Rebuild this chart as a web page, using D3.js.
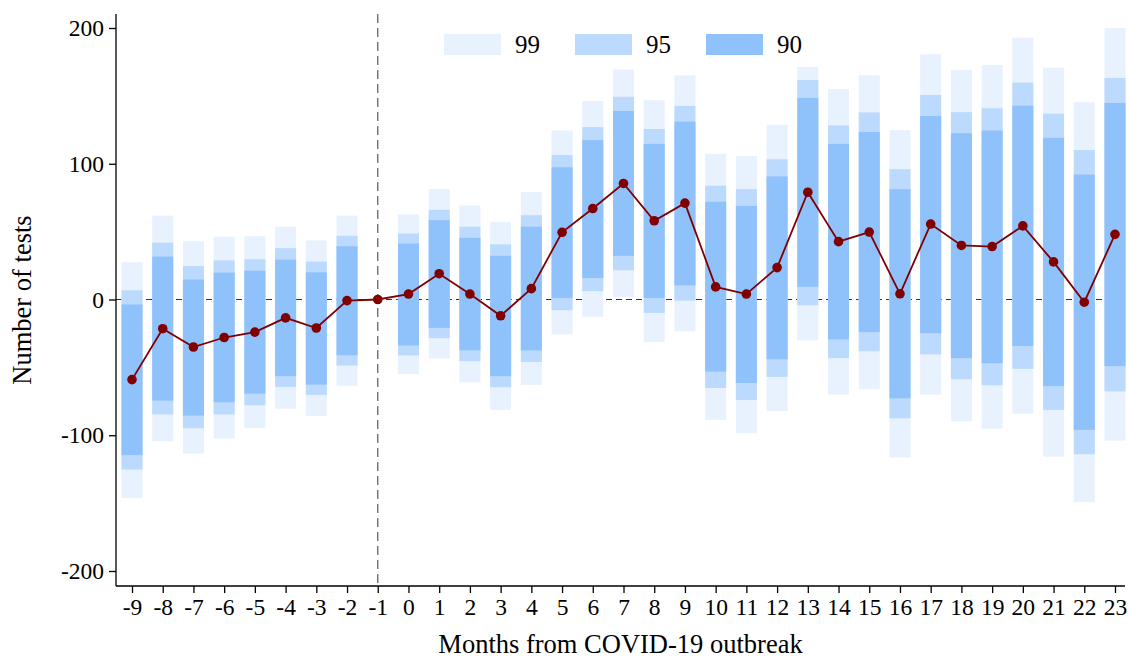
<!DOCTYPE html>
<html>
<head>
<meta charset="utf-8">
<script src="https://cdn.jsdelivr.net/npm/d3@7"></script>
<style>
  body { margin: 0; background: #fff; }
  svg text { font-family: "Liberation Serif", "Times New Roman", serif; fill: #000; }
</style>
</head>
<body>
<svg id="svg" width="1130" height="658"></svg>
<script>
// months relative to outbreak
var months = [-9,-8,-7,-6,-5,-4,-3,-2,-1,0,1,2,3,4,5,6,7,8,9,10,11,12,13,14,15,16,17,18,19,20,21,22,23];
var estimate = [-59,-21.5,-35,-28,-24,-13.5,-21,-0.8,0,4,19,4,-12,8,49.5,67,85.5,58,71,9.3,4,23.5,79,42.6,49.7,4.2,55.6,39.8,39,54.2,27.7,-2,48];
// 90% interval
var lo90 = [-114.6,-74.5,-85.5,-75.7,-69.4,-56.5,-62.7,-41,0,-33.9,-20.9,-37.5,-56.5,-37.5,1.1,15.8,32.2,1.1,10.4,-53.1,-61.5,-44,9.3,-29.4,-24,-72.8,-24.8,-43.2,-46.9,-34.2,-63.8,-96,-49.1];
var hi90 = [-3.7,31.6,14.7,19.8,21.2,29.4,20,39.2,0,41.2,58.4,45.4,32.2,53.6,97.4,117.4,138.9,114.6,131,72,68.9,90.6,148.5,114.6,123.4,81.3,135.2,122.5,124.5,142.8,119.1,92,144.8];
// 95% interval
var lo95 = [-125.3,-84.7,-94.8,-84.7,-77.9,-64.4,-70.3,-48.6,0,-41.2,-28.5,-45.4,-64.6,-46,-7.9,6.2,21.5,-9.9,-0.8,-65.2,-74,-57,-4.2,-43.2,-38.1,-87.5,-40.4,-58.7,-63.2,-51.1,-81.3,-114,-67.7];
var hi95 = [6.8,41.8,24.6,28.8,29.6,37.8,27.9,46.9,0,48.6,66.1,53.6,40.6,62.1,106.4,127,149.3,125.6,142.6,83.8,81.3,103.3,161.7,128.2,137.8,96,150.7,138,140.9,159.8,136.9,110.1,163.2];
// 99% interval
var lo99 = [-146.2,-104.4,-113.5,-102.5,-94.8,-80.5,-85.8,-63.5,0,-55,-43.5,-61,-81.3,-62.9,-25.7,-12.7,1.7,-31.3,-23.4,-88.6,-98.5,-82.1,-30.2,-70,-66.1,-116.3,-70,-89.8,-95.1,-84.1,-115.7,-149.3,-103.9];
var hi99 = [27.4,61.8,42.9,46.3,46.6,53.6,43.5,61.8,0,62.7,81.3,69.2,57,79.3,124.5,146.2,169.4,146.8,165.1,107.3,105.6,128.7,171.3,155,165.1,124.8,180.7,169.1,172.8,192.8,170.8,145.4,199.9];
var yTicks = [-200,-100,0,100,200];
var levels = ["99","95","90"];
var colors = {"99":"#e8f1fe","95":"#bbdafd","90":"#8fc1fb"};

var svg = d3.select("#svg");
var axLeft = 116, axRight = 1125, axTop = 14, axBottom = 586;

var x = d3.scalePoint().domain(months).range([132,1115]);
var y = d3.scaleLinear().domain([-200,200]).range([571,28]);
var barW = 21;

var rows = months.map(function(m,i){
  return {m:m, est:estimate[i],
    "99":[lo99[i],hi99[i]], "95":[lo95[i],hi95[i]], "90":[lo90[i],hi90[i]]};
});

// zero line
svg.append("line")
  .attr("x1",axLeft).attr("x2",axRight)
  .attr("y1",y(0)).attr("y2",y(0))
  .style("stroke","#333").style("stroke-width",1)
  .style("stroke-dasharray","6,4");

// interval bars, widest first
levels.forEach(function(lv){
  svg.append("g").selectAll("rect")
    .data(rows.filter(function(d){ return d.m != -1; }))
    .enter().append("rect")
    .attr("x",function(d){ return x(d.m)-barW/2; })
    .attr("width",barW)
    .attr("y",function(d){ return y(d[lv][1]); })
    .attr("height",function(d){ return y(d[lv][0])-y(d[lv][1]); })
    .style("fill",colors[lv]);
});

svg.append("line")
  .attr("x1",x(-1)).attr("x2",x(-1))
  .attr("y1",axTop).attr("y2",axBottom)
  .style("stroke","#666").style("stroke-width",1.3)
  .style("stroke-dasharray","9,5");

// point estimates
var line = d3.line().x(function(d){ return x(d.m); }).y(function(d){ return y(d.est); });
svg.append("path").datum(rows)
  .attr("d",line)
  .style("fill","none").style("stroke","#800000").style("stroke-width",1.8);
svg.append("g").selectAll("circle")
  .data(rows).enter().append("circle")
  .attr("cx",function(d){ return x(d.m); })
  .attr("cy",function(d){ return y(d.est); })
  .attr("r",4.8)
  .style("fill","#800000");

// axes (plain hyphen for negatives, like the original)
var fmt = function(d){ return String(d); };
var yAxis = svg.append("g").attr("transform","translate("+axLeft+",0)")
  .call(d3.axisLeft(y).tickValues(yTicks).tickFormat(fmt).tickSize(7).tickPadding(5));
yAxis.select(".domain").attr("d","M0,"+axTop+"V"+axBottom);
var xAxis = svg.append("g").attr("transform","translate(0,"+axBottom+")")
  .call(d3.axisBottom(x).tickFormat(fmt).tickSize(7).tickPadding(5));
xAxis.select(".domain").attr("d","M"+axLeft+",0H"+axRight);
svg.selectAll(".tick text").style("font-size","23.5px").style("font-family","Liberation Serif");
svg.selectAll(".domain, .tick line").style("stroke","#000").style("stroke-width",1.3);

svg.append("text")
  .attr("transform","translate(31,"+((axTop+axBottom)/2)+") rotate(-90)")
  .attr("text-anchor","middle")
  .style("font-size","26.5px")
  .text("Number of tests");
svg.append("text")
  .attr("x",(axLeft+axRight)/2).attr("y",653)
  .attr("text-anchor","middle")
  .style("font-size","26.5px")
  .text("Months from COVID-19 outbreak");

// legend
var legX = [444,575,706];
levels.forEach(function(lv,i){
  svg.append("rect").attr("x",legX[i]).attr("y",34).attr("width",57).attr("height",21)
    .style("fill",colors[lv]);
  svg.append("text").attr("x",legX[i]+71).attr("y",53)
    .style("font-size","25px").text(lv);
});
</script>
</body>
</html>
